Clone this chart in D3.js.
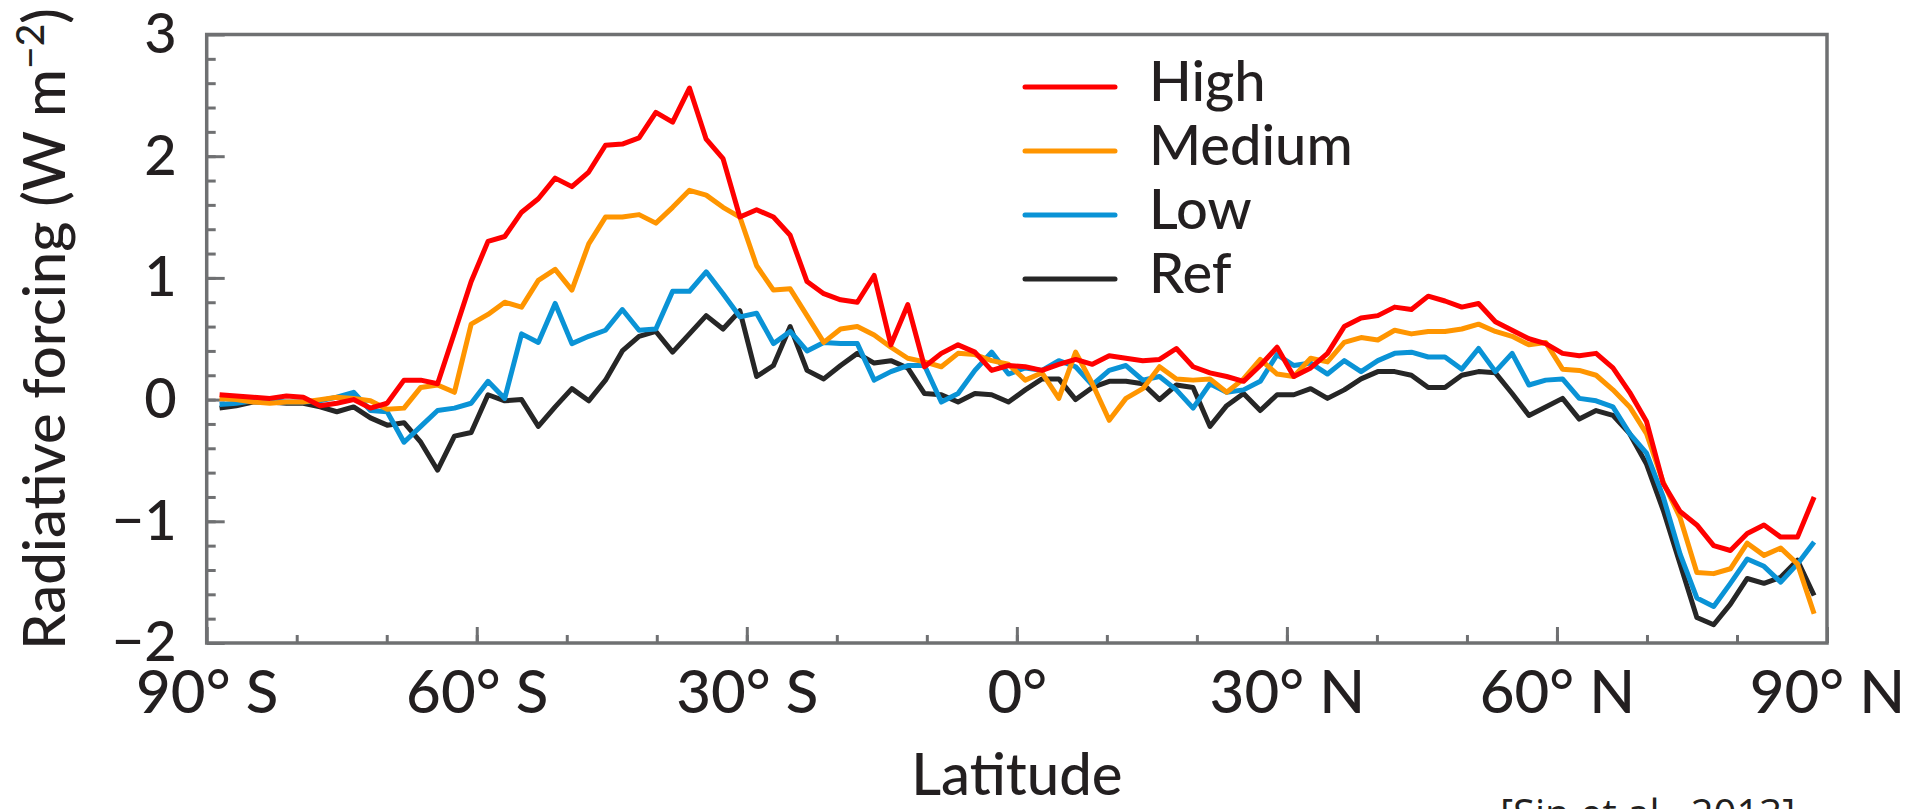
<!DOCTYPE html>
<html>
<head>
<meta charset="utf-8">
<script src="https://cdn.jsdelivr.net/npm/d3@7/dist/d3.min.js"></script>
<style>
  html, body { margin: 0; padding: 0; background: #fff; }
  svg { display: block; }
  text { font-family: Lato, "Open Sans", sans-serif; font-weight: 500; fill: #231f20; }
</style>
</head>
<body>
<svg id="chart" width="1905" height="809"></svg>
<script>
// Zonal-mean radiative forcing (W m^-2) on a T63 Gaussian latitude grid
const latitudes = [
  -88.57, -86.72, -84.86, -83.00, -81.14, -79.27, -77.41, -75.54, -73.68, -71.81,
  -69.95, -68.08, -66.22, -64.35, -62.48, -60.62, -58.75, -56.89, -55.02, -53.16,
  -51.29, -49.43, -47.56, -45.70, -43.83, -41.97, -40.10, -38.24, -36.37, -34.51,
  -32.64, -30.77, -28.91, -27.04, -25.18, -23.31, -21.45, -19.58, -17.72, -15.85,
  -13.99, -12.12, -10.26, -8.39, -6.53, -4.66, -2.80, -0.93,
  0.93, 2.80, 4.66, 6.53, 8.39, 10.26, 12.12, 13.99, 15.85, 17.72,
  19.58, 21.45, 23.31, 25.18, 27.04, 28.91, 30.77, 32.64, 34.51, 36.37,
  38.24, 40.10, 41.97, 43.83, 45.70, 47.56, 49.43, 51.29, 53.16, 55.02,
  56.89, 58.75, 60.62, 62.48, 64.35, 66.22, 68.08, 69.95, 71.81, 73.68,
  75.54, 77.41, 79.27, 81.14, 83.00, 84.86, 86.72, 88.57
];

const high = [
  0.04, 0.03, 0.02, 0.01, 0.03, 0.02, -0.05, -0.03, 0.00, -0.07,
  -0.03, 0.16, 0.16, 0.13, 0.55, 0.97, 1.30, 1.34, 1.54, 1.65,
  1.82, 1.75, 1.87, 2.09, 2.10, 2.15, 2.36, 2.28, 2.56, 2.14,
  1.98, 1.50, 1.56, 1.50, 1.35, 0.97, 0.87, 0.82, 0.80, 1.02,
  0.45, 0.78, 0.27, 0.38, 0.45, 0.39, 0.24, 0.28, 0.27, 0.24,
  0.29, 0.33, 0.29, 0.36, 0.34, 0.32, 0.33, 0.42, 0.27, 0.22,
  0.19, 0.15, 0.28, 0.43, 0.19, 0.26, 0.38, 0.60, 0.67, 0.69,
  0.76, 0.74, 0.85, 0.81, 0.76, 0.79, 0.64, 0.57, 0.50, 0.46,
  0.38, 0.36, 0.38, 0.26, 0.06, -0.18, -0.69, -0.92, -1.03, -1.20,
  -1.24, -1.10, -1.03, -1.13, -1.13, -0.80
];

const medium = [
  0.01, 0.00, -0.02, -0.03, -0.02, -0.02, 0.00, 0.02, 0.01, -0.01,
  -0.08, -0.07, 0.10, 0.12, 0.06, 0.62, 0.70, 0.80, 0.76, 0.98,
  1.07, 0.90, 1.28, 1.50, 1.50, 1.52, 1.45, 1.58, 1.72, 1.68,
  1.58, 1.50, 1.10, 0.90, 0.91, 0.69, 0.47, 0.58, 0.60, 0.53,
  0.43, 0.34, 0.31, 0.27, 0.38, 0.37, 0.32, 0.29, 0.16, 0.22,
  0.01, 0.39, 0.13, -0.17, 0.01, 0.09, 0.27, 0.17, 0.16, 0.17,
  0.06, 0.17, 0.33, 0.21, 0.19, 0.34, 0.31, 0.47, 0.51, 0.49,
  0.57, 0.54, 0.56, 0.56, 0.58, 0.62, 0.56, 0.52, 0.45, 0.47,
  0.25, 0.24, 0.20, 0.08, -0.06, -0.28, -0.68, -0.97, -1.42, -1.43,
  -1.39, -1.18, -1.28, -1.22, -1.35, -1.76
];

const low = [
  -0.04, -0.03, -0.01, -0.01, -0.02, -0.02, -0.01, 0.02, 0.06, -0.09,
  -0.10, -0.35, -0.22, -0.09, -0.07, -0.03, 0.15, 0.01, 0.54, 0.47,
  0.79, 0.46, 0.52, 0.57, 0.74, 0.57, 0.58, 0.89, 0.89, 1.05,
  0.87, 0.68, 0.71, 0.46, 0.56, 0.40, 0.47, 0.46, 0.46, 0.16,
  0.23, 0.28, 0.28, -0.02, 0.05, 0.24, 0.39, 0.21, 0.26, 0.24,
  0.32, 0.27, 0.12, 0.24, 0.28, 0.16, 0.19, 0.08, -0.07, 0.13,
  0.06, 0.08, 0.15, 0.37, 0.28, 0.30, 0.21, 0.32, 0.23, 0.32,
  0.38, 0.39, 0.35, 0.35, 0.25, 0.42, 0.23, 0.38, 0.12, 0.16,
  0.17, 0.01, -0.01, -0.06, -0.28, -0.44, -0.80, -1.27, -1.63, -1.70,
  -1.51, -1.31, -1.37, -1.50, -1.35, -1.17
];

const ref = [
  -0.07, -0.05, -0.02, -0.02, -0.03, -0.03, -0.06, -0.10, -0.06, -0.15,
  -0.21, -0.19, -0.35, -0.58, -0.30, -0.27, 0.04, -0.01, 0.00, -0.22,
  -0.06, 0.09, -0.01, 0.16, 0.40, 0.52, 0.56, 0.39, 0.54, 0.69,
  0.58, 0.73, 0.19, 0.28, 0.60, 0.24, 0.17, 0.28, 0.38, 0.30,
  0.32, 0.26, 0.05, 0.04, -0.02, 0.05, 0.04, -0.02, 0.08, 0.17,
  0.17, 0.00, 0.10, 0.15, 0.15, 0.13, 0.00, 0.12, 0.10, -0.22,
  -0.05, 0.05, -0.09, 0.04, 0.04, 0.09, 0.01, 0.08, 0.17, 0.23,
  0.23, 0.20, 0.10, 0.10, 0.20, 0.23, 0.22, 0.05, -0.13, -0.06,
  0.01, -0.16, -0.09, -0.13, -0.28, -0.53, -0.91, -1.35, -1.79, -1.85,
  -1.68, -1.47, -1.51, -1.46, -1.32, -1.61
];

const seriesNames = ["High", "Medium", "Low", "Ref"];
const seriesColors = ["#ff0000", "#ff9500", "#0a93d6", "#262626"];
const seriesValues = [high, medium, low, ref];

const xMajorTicks = [-90, -60, -30, 0, 30, 60, 90];
const xTickLabels = ["90° S", "60° S", "30° S", "0°", "30° N", "60° N", "90° N"];
const yMajorTicks = [-2, -1, 0, 1, 2, 3];

// ---- layout ----
const plotLeft = 206.7, plotRight = 1827, plotTop = 34.5, plotBottom = 643;
const svg = d3.select("#chart");

const x = d3.scaleLinear().domain([-90, 90]).range([plotLeft, plotRight]);
const y = d3.scaleLinear().domain([-2, 3]).range([plotBottom, plotTop]);

const axisGrey = "#6f7072";

// minor ticks (every 10 degrees, every 0.2 W m-2), pointing into the plot
svg.append("g")
  .attr("transform", `translate(0,${plotBottom})`)
  .call(d3.axisBottom(x).tickValues(d3.range(-80, 90, 10)).tickSizeInner(-8).tickSizeOuter(0).tickFormat(""))
  .call(g => g.select(".domain").remove())
  .call(g => g.selectAll("line").attr("stroke", axisGrey).attr("stroke-width", 3));

svg.append("g")
  .attr("transform", `translate(${plotLeft},0)`)
  .call(d3.axisLeft(y).tickValues(d3.range(-1.8, 3, 0.2)).tickSizeInner(-9).tickSizeOuter(0).tickFormat(""))
  .call(g => g.select(".domain").remove())
  .call(g => g.selectAll("line").attr("stroke", axisGrey).attr("stroke-width", 3));

// major ticks with labels
const xAxis = svg.append("g")
  .attr("transform", `translate(0,${plotBottom})`)
  .call(d3.axisBottom(x).tickValues(xMajorTicks).tickSizeInner(-16).tickSizeOuter(0)
    .tickPadding(27).tickFormat((d, i) => xTickLabels[i]));
xAxis.select(".domain").remove();
xAxis.selectAll("line").attr("stroke", axisGrey).attr("stroke-width", 3);
xAxis.selectAll("text").style("font-size", "60px").attr("fill", "#231f20");

const yAxis = svg.append("g")
  .attr("transform", `translate(${plotLeft},0)`)
  .call(d3.axisLeft(y).tickValues(yMajorTicks).tickSizeInner(-18).tickSizeOuter(0)
    .tickPadding(30).tickFormat(d3.format("d")));
yAxis.select(".domain").remove();
yAxis.selectAll("line").attr("stroke", axisGrey).attr("stroke-width", 3);
yAxis.selectAll("text").style("font-size", "56px").attr("fill", "#231f20");

// plot frame
svg.append("rect")
  .attr("x", plotLeft).attr("y", plotTop)
  .attr("width", plotRight - plotLeft).attr("height", plotBottom - plotTop)
  .attr("fill", "none").attr("stroke", axisGrey).attr("stroke-width", 3.5);

// series lines (Ref drawn first, High on top)
const line = d3.line()
  .x((d, i) => x(latitudes[i]))
  .y(d => y(d));

const order = [3, 2, 1, 0];
svg.append("g").selectAll("path")
  .data(order)
  .join("path")
  .attr("d", k => line(seriesValues[k]))
  .attr("fill", "none")
  .attr("stroke", k => seriesColors[k])
  .attr("stroke-width", 5)
  .attr("stroke-linejoin", "round")
  .attr("stroke-linecap", "butt");

// legend
const legendY = [87, 151, 215, 279];
const legend = svg.append("g");
seriesNames.forEach((name, i) => {
  legend.append("line")
    .attr("x1", 1025).attr("x2", 1115)
    .attr("y1", legendY[i]).attr("y2", legendY[i])
    .attr("stroke", seriesColors[i]).attr("stroke-width", 5)
    .attr("stroke-linecap", "round");
  legend.append("text")
    .attr("x", 1149).attr("y", legendY[i] + 14)
    .style("font-size", "56px")
    .text(name);
});

// axis titles
const yTitle = svg.append("text")
  .attr("transform", "translate(65,329) rotate(-90)")
  .attr("text-anchor", "middle")
  .style("font-size", "58px");
yTitle.append("tspan").text("Radiative forcing (W m");
yTitle.append("tspan").attr("dy", "-0.55em").style("font-size", "39px").text("−2");
yTitle.append("tspan").attr("dy", "0.37em").text(")");

svg.append("text")
  .attr("x", (plotLeft + plotRight) / 2).attr("y", 795)
  .attr("text-anchor", "middle")
  .style("font-size", "58px")
  .text("Latitude");

// source note
svg.append("text")
  .attr("x", 1500).attr("y", 828)
  .style("font-family", "'Open Sans', sans-serif")
  .style("font-weight", 400)
  .style("font-size", "40px")
  .attr("fill", "#404040")
  .text("[Sin et al., 2013]");
</script>
</body>
</html>
